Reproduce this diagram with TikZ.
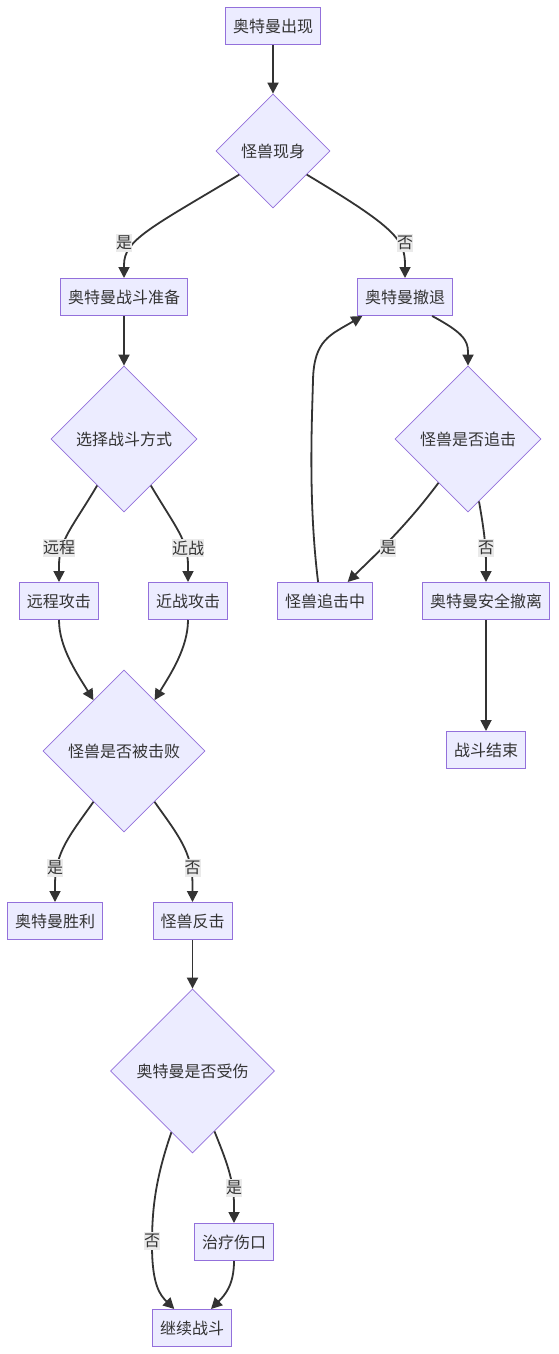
\documentclass[tikz,border=0pt]{standalone}
\usepackage{fontspec}
\newfontfamily\cjk{Noto Sans CJK SC}
\usetikzlibrary{shapes.geometric,arrows.meta}
\definecolor{nodefill}{HTML}{ECECFF}
\definecolor{nodeline}{HTML}{9370DB}
\definecolor{edgecol}{HTML}{333333}
\definecolor{labfill}{HTML}{EAEAEA}
\tikzset{
  txt/.style={font=\cjk\fontsize{16}{19}\selectfont, text=edgecol},
  box/.style={txt, draw=nodeline, fill=nodefill, line width=1pt, inner xsep=7.5pt, inner ysep=0pt, minimum height=37pt},
  dia/.style={txt, diamond, aspect=1, draw=nodeline, fill=nodefill, line width=0.8pt, inner sep=0pt, minimum width=#1, minimum height=#1},
  edge/.style={draw=edgecol, line width=1.8pt, -{Triangle[length=11pt,width=11pt]}},
  lab/.style={txt, fill=labfill, inner sep=0pt, minimum height=18pt}
}
\begin{document}
\begin{tikzpicture}[x=1pt,y=-1pt]
\useasboundingbox[fill=white] (0,0) rectangle (558,1354);
% nodes
\node[box] (A) at (273,26) {奥特曼出现};
\node[dia=114pt] (B) at (273,151) {怪兽现身};
\node[box] (C) at (124,297) {奥特曼战斗准备};
\node[box] (D) at (405,297) {奥特曼撤退};
\node[dia=146pt] (E) at (124,439) {选择战斗方式};
\node[dia=146pt] (F) at (468,439) {怪兽是否追击};
\node[box] (R) at (59,601) {远程攻击};
\node[box] (N) at (188,601) {近战攻击};
\node[box] (M) at (325,601) {怪兽追击中};
\node[box] (S) at (486,601) {奥特曼安全撤离};
\node[dia=162pt] (G) at (124,751) {怪兽是否被击败};
\node[box] (X) at (486,750) {战斗结束};
\node[box] (V) at (55,921) {奥特曼胜利};
\node[box] (K) at (192.5,921) {怪兽反击};
\node[dia=164pt] (H) at (192.5,1071) {奥特曼是否受伤};
\node[box] (T) at (234,1242) {治疗伤口};
\node[box] (W) at (192,1328) {继续战斗};
% edges
\draw[edge] (A) -- (B);
\draw[edge] (B.-145) .. controls (150,228) and (124,240) .. (124,265) -- (C.north);
\draw[edge] (B.-35) .. controls (396,228) and (405,240) .. (405,265) -- (D.north);
\draw[edge] (C) -- (E);
\draw[edge] (D.-35) .. controls (462,332) and (468,340) .. (468,352) -- (F.north);
\draw[edge] (E.-120) .. controls (72,528) and (59,540) .. (59,566) -- (R.north);
\draw[edge] (E.-60) .. controls (176,528) and (188,540) .. (188,566) -- (N.north);
\draw[edge] (F.-124) .. controls (405,528) and (370,560) .. (M.40);
\draw[edge] (F.-80) .. controls (484,530) and (486,545) .. (486,566) -- (S.north);
\draw[edge] (M.110) .. controls (308,500) and (312,420) .. (313,380) .. controls (314,340) and (330,335) .. (D.-156);
\draw[edge] (R.south) .. controls (59,648) and (78,675) .. (G.121);
\draw[edge] (N.south) .. controls (188,648) and (170,675) .. (G.59);
\draw[edge] (S) -- (X);
\draw[edge] (G.-121) .. controls (70,835) and (55,852) .. (55,885) -- (V.north);
\draw[edge] (G.-59) .. controls (178,835) and (192.5,852) .. (192.5,885) -- (K.north);
\draw[edge] (K) -- (H);
\draw[edge] (H.-70) .. controls (226,1160) and (234,1180) .. (234,1205) -- (T.north);
\draw[edge] (H.-109) .. controls (155,1180) and (152,1210) .. (152,1245) .. controls (152,1285) and (160,1295) .. (W.133);
\draw[edge] (T.south) .. controls (234,1285) and (225,1295) .. (W.45);
% labels
\node[lab] (l1) at (124,243) {是};
\node[lab] (l2) at (405,243) {否};
\node[lab] (l3) at (59,548) {远程};
\node[lab] (l4) at (188,548) {近战};
\node[lab] (l5) at (388,548) {是};
\node[lab] (l6) at (486,548) {否};
\node[lab] (l7) at (55,868) {是};
\node[lab] (l8) at (192.5,868) {否};
\node[lab] (l9) at (234,1188) {是};
\node[lab] (l10) at (152,1241) {否};
\end{tikzpicture}
\end{document}
